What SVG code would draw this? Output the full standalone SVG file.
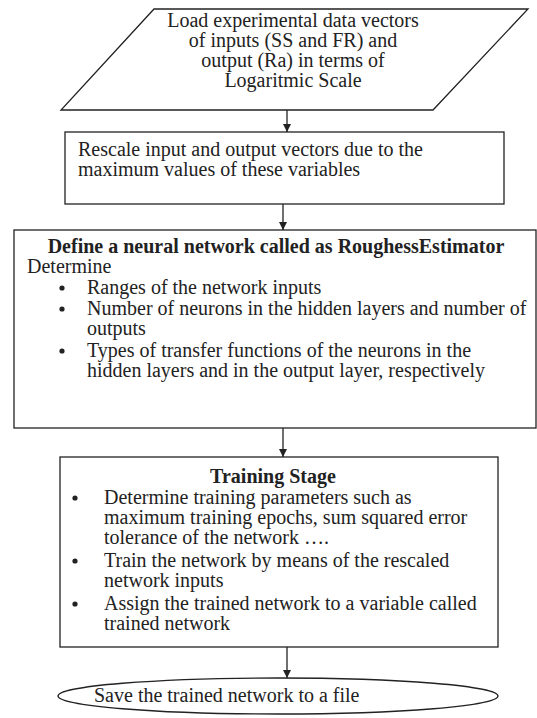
<svg xmlns="http://www.w3.org/2000/svg" width="537" height="718" viewBox="0 0 537 718">
  <style>
    .shape { fill: #fff; stroke: #222; stroke-width: 1.3; }
    .t { font-family: "Liberation Serif", "Times New Roman", serif; font-size: 20px; fill: #222; }
    .b { font-weight: bold; }
    .c { text-anchor: middle; }
    .dot { fill: #222; }
    .edge { stroke: #222; stroke-width: 1.3; fill: none; marker-end: url(#arrow); }
  </style>
  <defs>
    <marker id="arrow" viewBox="0 0 10 10" refX="10" refY="5" markerWidth="8" markerHeight="8" markerUnits="userSpaceOnUse" orient="auto">
      <path d="M0,0 L10,5 L0,10 z" fill="#222"/>
    </marker>
  </defs>

  <g id="connectors">
    <line class="edge" x1="287" y1="110" x2="287" y2="132"/>
    <line class="edge" x1="283" y1="204" x2="283" y2="230"/>
    <line class="edge" x1="283" y1="428" x2="283" y2="457"/>
    <line class="edge" x1="287" y1="647" x2="287" y2="678"/>
  </g>

  <g id="load-data">
    <polygon class="shape" points="154,9 528,9 433,110 61,110"/>
    <text class="t c" x="293" y="27">Load experimental data vectors</text>
    <text class="t c" x="293" y="47">of inputs (SS and FR) and</text>
    <text class="t c" x="293" y="67">output (Ra) in terms of</text>
    <text class="t c" x="293" y="87">Logaritmic Scale</text>
  </g>

  <g id="rescale">
    <rect class="shape" x="65" y="132" width="439" height="72"/>
    <text class="t" x="78" y="156">Rescale input and output vectors due to the</text>
    <text class="t" x="78" y="176">maximum values of these variables</text>
  </g>

  <g id="define-network">
    <rect class="shape" x="14" y="230" width="522" height="198"/>
    <text class="t b c" x="276" y="253">Define a neural network called as RoughessEstimator</text>
    <text class="t" x="27" y="273">Determine</text>
    <circle class="dot" cx="62" cy="288" r="2.6"/>
    <text class="t" x="87" y="294">Ranges of the network inputs</text>
    <circle class="dot" cx="62" cy="309" r="2.6"/>
    <text class="t" x="87" y="315">Number of neurons in the hidden layers and number of</text>
    <text class="t" x="87" y="335">outputs</text>
    <circle class="dot" cx="62" cy="351" r="2.6"/>
    <text class="t" x="87" y="357">Types of transfer functions of  the neurons in the</text>
    <text class="t" x="87" y="377">hidden layers and in the output layer, respectively</text>
  </g>

  <g id="training">
    <rect class="shape" x="60" y="457" width="438" height="190"/>
    <text class="t b c" x="273" y="483">Training Stage</text>
    <circle class="dot" cx="75" cy="498" r="2.6"/>
    <text class="t" x="104" y="504">Determine  training parameters such as</text>
    <text class="t" x="104" y="524">maximum training epochs, sum squared error</text>
    <text class="t" x="104" y="544">tolerance of the network ….</text>
    <circle class="dot" cx="75" cy="561" r="2.6"/>
    <text class="t" x="104" y="567">Train the network by means of the rescaled</text>
    <text class="t" x="104" y="587">network inputs</text>
    <circle class="dot" cx="75" cy="604" r="2.6"/>
    <text class="t" x="104" y="610">Assign the trained network to a variable called</text>
    <text class="t" x="104" y="630">trained network</text>
  </g>

  <g id="save-file">
    <ellipse class="shape" cx="278" cy="696" rx="220" ry="18"/>
    <text class="t" x="94" y="702">Save the trained network to a file</text>
  </g>
</svg>
